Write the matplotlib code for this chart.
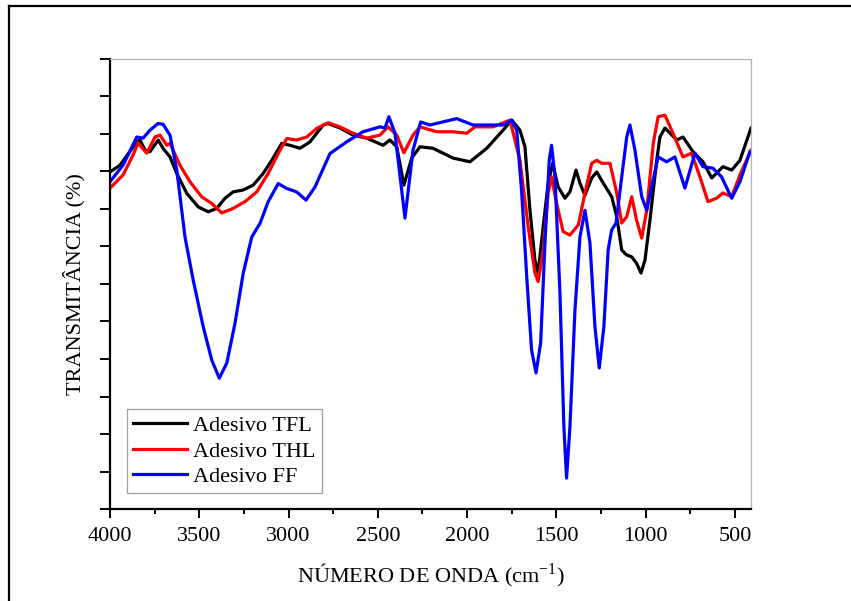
import matplotlib
matplotlib.use("Agg")
import matplotlib.pyplot as plt
from matplotlib.lines import Line2D
from matplotlib.ticker import MultipleLocator

plt.rcParams['font.family'] = ['Liberation Serif', 'DejaVu Serif']
plt.rcParams['mathtext.fontset'] = 'custom'
plt.rcParams['mathtext.rm'] = 'Liberation Serif'

# ---- data (wavenumber cm-1, transmittance arbitrary units) ----
wn_tfl = [4000, 3944, 3850, 3832, 3804, 3776, 3730, 3703, 3664, 3626, 3570, 3506, 3450, 3402,
          3356, 3310, 3254, 3198, 3142, 3094, 3038, 2992, 2936, 2880, 2806, 2779, 2712, 2639,
          2562, 2471, 2432, 2394, 2354, 2310, 2264, 2191, 2079, 1984, 1890, 1799, 1750, 1704,
          1676, 1648, 1620, 1602, 1574, 1546, 1521, 1490, 1452, 1424, 1390, 1368, 1340, 1302,
          1274, 1237, 1190, 1162, 1134, 1106, 1078, 1051, 1026, 1004, 976, 938, 920, 892,
          826, 791, 735, 679, 630, 567, 518, 472, 410]
t_tfl = [8.98, 9.16, 9.78, 9.83, 9.56, 9.52, 9.83, 9.61, 9.38, 8.94, 8.41, 8.05, 7.92, 8.01,
         8.28, 8.45, 8.50, 8.63, 8.94, 9.29, 9.74, 9.69, 9.61, 9.78, 10.23, 10.27, 10.15, 9.96,
         9.88, 9.69, 9.83, 9.65, 8.63, 9.35, 9.65, 9.61, 9.35, 9.25, 9.61, 10.09, 10.36, 10.09,
         9.65, 7.96, 6.63, 6.29, 7.52, 8.68, 9.21, 8.58, 8.28, 8.45, 9.03, 8.68, 8.36, 8.82,
         8.98, 8.68, 8.32, 7.79, 6.90, 6.77, 6.72, 6.55, 6.29, 6.63, 7.70, 9.29, 9.91, 10.15,
         9.83, 9.91, 9.52, 9.25, 8.82, 9.12, 9.03, 9.29, 10.15]

wn_thl = [4000, 3927, 3871, 3843, 3794, 3748, 3720, 3682, 3664, 3608, 3552, 3487, 3430, 3374,
          3310, 3244, 3178, 3114, 3058, 3010, 2955, 2898, 2842, 2778, 2712, 2639, 2562, 2488,
          2443, 2394, 2354, 2303, 2264, 2170, 2079, 2002, 1956, 1855, 1760, 1704, 1658, 1620,
          1602, 1574, 1546, 1527, 1499, 1462, 1424, 1377, 1340, 1302, 1274, 1247, 1200, 1162,
          1134, 1106, 1078, 1051, 1022, 994, 957, 930, 892, 847, 791, 743, 696, 651,
          603, 567, 518, 472, 410]
t_thl = [8.55, 8.90, 9.43, 9.75, 9.48, 9.91, 9.96, 9.69, 9.74, 9.16, 8.72, 8.32, 8.14, 7.89,
         8.01, 8.19, 8.45, 8.94, 9.47, 9.87, 9.83, 9.91, 10.14, 10.29, 10.18, 10.01, 9.88, 9.96,
         10.18, 9.96, 9.49, 9.96, 10.18, 10.05, 10.05, 10.01, 10.18, 10.18, 10.36, 9.29, 7.52, 6.29,
         6.06, 6.90, 8.42, 8.85, 8.15, 7.39, 7.30, 7.57, 8.42, 9.21, 9.29, 9.21, 9.21, 8.42,
         7.62, 7.79, 8.32, 7.70, 7.22, 7.96, 9.75, 10.45, 10.49, 10.01, 9.38, 9.48, 8.85, 8.19,
         8.28, 8.42, 8.32, 8.90, 9.56]

wn_ff = [4000, 3927, 3850, 3815, 3776, 3731, 3703, 3664, 3626, 3580, 3534, 3478, 3430, 3388,
         3346, 3300, 3254, 3206, 3160, 3114, 3058, 3010, 2955, 2902, 2852, 2768, 2675, 2583,
         2488, 2460, 2438, 2404, 2348, 2303, 2260, 2208, 2058, 1967, 1799, 1750, 1722, 1694,
         1666, 1639, 1614, 1588, 1564, 1540, 1527, 1508, 1480, 1458, 1443, 1424, 1396, 1368,
         1340, 1312, 1284, 1260, 1234, 1210, 1191, 1166, 1134, 1106, 1088, 1060, 1022, 994,
         967, 930, 883, 836, 780, 724, 679, 623, 575, 518, 472, 416]
t_ff = [8.72, 9.16, 9.91, 9.88, 10.09, 10.27, 10.25, 9.96, 9.03, 7.25, 6.10, 4.86, 3.97, 3.49,
        3.89, 4.95, 6.28, 7.25, 7.61, 8.19, 8.67, 8.54, 8.45, 8.23, 8.58, 9.47, 9.78, 10.05,
        10.18, 10.15, 10.45, 10.01, 7.75, 9.56, 10.31, 10.23, 10.40, 10.23, 10.23, 10.36, 10.09, 8.42,
        6.19, 4.24, 3.63, 4.43, 7.09, 9.29, 9.69, 8.85, 5.76, 2.20, 0.83, 2.20, 5.30, 7.25,
        7.96, 7.09, 4.86, 3.76, 4.86, 6.90, 7.43, 7.62, 8.85, 9.91, 10.23, 9.56, 8.32, 7.96,
        8.58, 9.38, 9.25, 9.38, 8.55, 9.48, 9.12, 9.08, 8.85, 8.28, 8.72, 9.52]

labels = ['Adesivo TFL', 'Adesivo THL', 'Adesivo FF']
colors = ['#000000', '#ff0000', '#0000ff']
x_ticks = [4000, 3500, 3000, 2500, 2000, 1500, 1000, 500]

W, H = 851, 601
fig = plt.figure(figsize=(W / 100, H / 100), dpi=100)
ax = fig.add_axes([110 / W, 1 - 509.3 / H, (751 - 110) / W, (509.3 - 58.5) / H])

for wn, t, lab, c in zip([wn_tfl, wn_thl, wn_ff], [t_tfl, t_thl, t_ff], labels, colors):
    ax.plot(wn, t, color=c, lw=2.3, label=lab, solid_joinstyle='round')

ax.set_xlim(4000, 410)
ax.set_ylim(0, 12)
ax.set_xticks(x_ticks)
ax.xaxis.set_minor_locator(MultipleLocator(250))
ax.yaxis.set_major_locator(MultipleLocator(1))
ax.set_yticklabels([])
ax.tick_params(axis='x', which='major', direction='out', length=6.5, width=1.4,
               labelsize=16, pad=6, top=False)
ax.tick_params(axis='x', which='minor', direction='out', length=3.6, width=1.4, top=False)
ax.tick_params(axis='y', which='major', direction='out', length=7, width=1.4, right=False)

for s in ['left', 'bottom']:
    ax.spines[s].set_linewidth(1.6)
    ax.spines[s].set_color('black')
for s in ['top', 'right']:
    ax.spines[s].set_linewidth(0.9)
    ax.spines[s].set_color('#b4b4b4')

ax.set_xlabel(r'NÚMERO DE ONDA (cm$^{\mathregular{-1}}$)', fontsize=16, labelpad=11)
ax.set_ylabel('TRANSMITÂNCIA (%)', fontsize=16, labelpad=7.5)

leg = ax.legend(loc='lower left', bbox_to_anchor=(127 / W, 1 - 493.3 / H),
                bbox_transform=fig.transFigure, borderaxespad=0, fontsize=16,
                fancybox=False, frameon=True, handlelength=2.4, handletextpad=0.3,
                labelspacing=0.22, borderpad=0.28)
leg.get_frame().set_edgecolor('#888888')
leg.get_frame().set_linewidth(0.9)
for h in leg.get_lines():
    h.set_linewidth(2.3)

# outer frame (left and top borders)
fig.add_artist(Line2D([9 / W, 9 / W], [0, 1 - 6 / H], transform=fig.transFigure,
                      color='black', lw=1.6))
fig.add_artist(Line2D([9 / W, 1], [1 - 6 / H, 1 - 6 / H], transform=fig.transFigure,
                      color='black', lw=1.6))

fig.savefig('out.png', dpi=100)
